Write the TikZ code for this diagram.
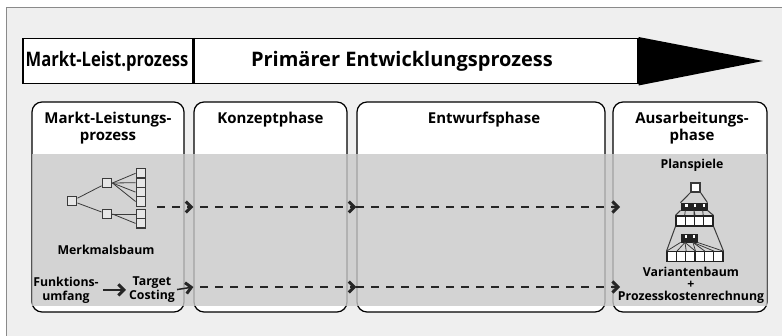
\documentclass[tikz,border=0pt]{standalone}
\usepackage{fontspec}
\setmainfont{Open Sans}
\usetikzlibrary{arrows.meta}
\definecolor{framebg}{HTML}{EFEFEF}
\definecolor{framerule}{HTML}{8A8A8A}
\definecolor{bandgray}{gray}{0.79}
\definecolor{iconline}{HTML}{3A3A3A}
\definecolor{iconfill}{HTML}{E6E6E6}
\definecolor{darkcell}{HTML}{222222}

\tikzset{
  chev/.tip={Straight Barb[length=5.5pt,width=11pt,line width=3pt]},
  titletext/.style={font=\bfseries\fontsize{20}{23}\selectfont, inner sep=0pt},
  headtext/.style={font=\bfseries\fontsize{15}{17}\selectfont, align=center, inner sep=0pt, anchor=north},
  smalltext/.style={font=\bfseries\fontsize{12.3}{14}\selectfont, align=center, inner sep=0pt},
  barbox/.style={draw=black, line width=1.5pt, fill=white, inner sep=0pt, anchor=north west, minimum height=45pt},
  phasebox/.style={draw=black, line width=1.2pt, fill=white, rounded corners=10pt, inner sep=0pt, minimum height=210pt},
  cell/.style={draw=iconline, line width=1.4pt, fill=iconfill, minimum size=9.5pt, inner sep=0pt},
  darkbox/.style={draw=darkcell, line width=0.8pt, fill=darkcell, inner sep=0pt,
    path picture={\fill[white] ([xshift=-0.2pt,yshift=-1.2pt]path picture bounding box.north) rectangle ++(2.6pt,-2.6pt);}},
  whitebox/.style={draw=darkcell, line width=1.1pt, fill=white, inner sep=0pt},
  twig/.style={draw=iconline, line width=0.8pt},
  flowdash/.style={draw=black!85, line width=1.3pt, dash pattern=on 8pt off 7pt},
  flowsolid/.style={draw=black!85, line width=1.5pt},
}

\begin{document}
\begin{tikzpicture}[x=1pt,y=-1pt]
\useasboundingbox (0,0) rectangle (782,336);
\fill[white] (0,0) rectangle (782,336);

% outer frame
\fill[framebg] (6,8) rectangle (782,336);
\draw[framerule, line width=1pt] (782,8) -- (6,8) -- (6,336);

% process bar
\node[barbox, minimum width=170pt] (mlp) at (22,38) {};
\node[titletext] (mlptext) at (107,61) {\scalebox{0.83}[1]{Markt-Leist.prozess}};
\node[barbox, minimum width=445pt] (pep) at (192,38) {};
\node[titletext] (peptext) at (402,61) {Primärer Entwicklungsprozess};
\draw[line width=2.4pt] (mlp.north east) -- (mlp.south east);
\fill[black] ([yshift=1pt]pep.north east) -- (763,61) -- ([yshift=-1pt]pep.south east) -- cycle;

% phase boxes
\node[phasebox, minimum width=152pt] (ph1) at (108,207) {};
\node[phasebox, minimum width=153pt] (ph2) at (270.5,207) {};
\node[phasebox, minimum width=248pt] (ph3) at (481,207) {};
\node[phasebox, minimum width=154pt] (ph4) at (690,207) {};

% shaded band across all phases
\fill[bandgray, opacity=0.8] (32,154) rectangle (767,306);

% phase headings
\node[headtext] (h1) at (108,111.5) {Markt-Leistungs-\\prozess};
\node[headtext] (h2) at (270.5,111.5) {Konzeptphase};
\node[headtext] (h3) at (484,111.5) {Entwurfsphase};
\node[headtext] (h4) at (692,112) {Ausarbeitungs-\\phase};

% feature tree
\node[cell] (root) at (72,201) {};
\node[cell] (m1) at (107,183) {};
\node[cell] (m2) at (107,214) {};
\foreach \i/\yy in {1/173.3,2/182.7,3/192.1,4/201.5,5/214,6/223.4}
  \node[cell] (l\i) at (141,\yy) {};
\draw[twig] (root) -- (m1) (root) -- (m2);
\foreach \i in {1,...,4} \draw[twig] (m1.east) -- (l\i.west);
\foreach \i in {5,6} \draw[twig] (m2.east) -- (l\i.west);
\node[smalltext, anchor=north] (mb) at (106,245) {Merkmalsbaum};

% function scope and target costing
\node[smalltext, anchor=north] (fu) at (66,276.5) {Funktions-\\umfang};
\node[smalltext, anchor=north] (tc) at (152,276.5) {Target\\Costing};

% planning games and variant tree
\node[smalltext, anchor=north] (pl) at (692,158.5) {Planspiele};
\node[cell, fill=white, line width=1.1pt, minimum size=9pt] (vt) at (695.5,187.5) {};
\foreach \i/\xx in {1/685.3,2/694,3/702.7}
  \node[darkbox, minimum width=8.7pt, minimum height=7pt] (d\i) at (\xx,206.5) {};
\foreach \i/\xx in {1/680.6,2/689.9,3/699.1,4/708.4}
  \node[whitebox, minimum width=9.25pt, minimum height=10pt] (w\i) at (\xx,221) {};
\foreach \i/\xx in {1/685,2/693}
  \node[darkbox, minimum width=8pt, minimum height=8pt] (e\i) at (\xx,238) {};
\foreach \i/\xx in {1/671.7,2/681,3/690.3,4/699.7,5/709,6/718.3}
  \node[whitebox, minimum width=9.33pt, minimum height=9.5pt] (b\i) at (\xx,256.5) {};
\draw[twig, line width=1pt] (vt.south west) -- (d1.north west) (vt.south east) -- (d3.north east);
\draw[twig, line width=1pt] (d1.south west) -- (w1.north west) (d3.south east) -- (w4.north east);
\draw[twig] (d1.south) -- (w2.north west) (d2.south) -- (w3.north west) (d3.south) -- (w4.north west)
            (d2.south) -- (w2.north east);
\draw[twig, line width=1pt] (w1.south west) -- (b1.north west) (w4.south east) -- (b6.north east);
\foreach \j in {1,2,3} \draw[twig] (e1.south) -- (b\j.north east);
\foreach \j in {3,4,5} \draw[twig] (e2.south) -- (b\j.north east);
\draw[twig] (e1.south west) -- (b1.north west) (e2.south east) -- (b6.north east);
\node[smalltext, anchor=north, font=\bfseries\fontsize{12.3}{12}\selectfont] (vb) at (691,266.5)
  {Variantenbaum\\+\\Prozesskostenrechnung};

% information flow across the phases
\coordinate (u0) at (157,207);
\coordinate (u1) at (620,207);
\coordinate (v1) at (620,287);
\draw[flowdash, -{chev}] (u0) -- (ph2.west |- u0);
\draw[flowdash, dash phase=8pt, -{chev}] (ph2.west |- u0) -- (ph3.west |- u0);
\draw[flowdash, -{chev}] (ph3.west |- u0) -- (u1);

\draw[flowsolid, -{chev}] ([xshift=4pt]fu.east) -- ([xshift=-3pt]fu.east -| tc.west);
\draw[flowsolid, -{chev}] ([xshift=2pt]tc.east) -- (ph2.west |- v1);
\draw[flowdash, dash phase=8pt, -{chev}] (ph2.west |- v1) -- (ph3.west |- v1);
\draw[flowdash, -{chev}] (ph3.west |- v1) -- (v1);
\end{tikzpicture}
\end{document}
